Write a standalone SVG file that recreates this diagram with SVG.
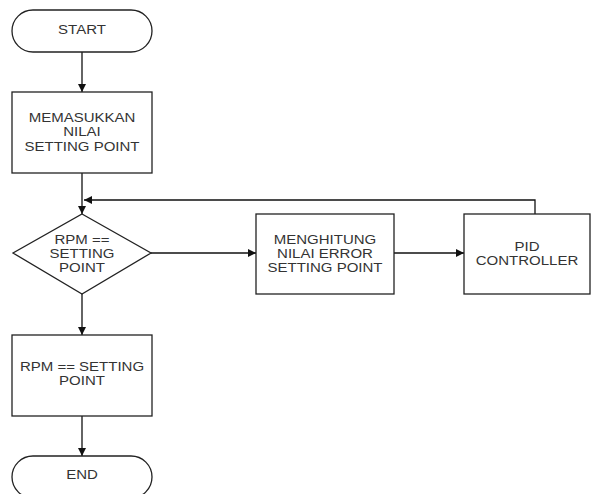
<svg xmlns="http://www.w3.org/2000/svg" width="591" height="494" viewBox="0 0 591 494">
<style>
.s{fill:#fff;stroke:#222;stroke-width:1.3}
.t{font-family:"Liberation Sans",Arial,sans-serif;font-size:12px;fill:#333;text-anchor:middle}
.c{fill:none;stroke:#111;stroke-width:1.3}
</style>
<defs>
<marker id="a" viewBox="0 0 10 10" refX="10" refY="5" markerWidth="8" markerHeight="8" markerUnits="userSpaceOnUse" orient="auto">
<path d="M0,0 L10,5 L0,10 z" fill="#111"/>
</marker>
</defs>
<rect width="591" height="494" fill="#fff"/>
<g id="connectors">
<line class="c" x1="82" y1="52" x2="82" y2="92" marker-end="url(#a)"/>
<line class="c" x1="82" y1="173" x2="82" y2="214" marker-end="url(#a)"/>
<polyline class="c" points="535,214 535,200 84,200" marker-end="url(#a)"/>
<line class="c" x1="151" y1="253" x2="256" y2="253" marker-end="url(#a)"/>
<line class="c" x1="394" y1="253" x2="464" y2="253" marker-end="url(#a)"/>
<line class="c" x1="82" y1="294" x2="82" y2="335" marker-end="url(#a)"/>
<line class="c" x1="82" y1="416" x2="82" y2="456" marker-end="url(#a)"/>
</g>
<g id="start">
<rect class="s" x="12" y="10" width="140" height="42" rx="21" ry="21"/>
<g transform="translate(82,0) scale(1.25,1)"><text class="t" x="0" y="34">START</text></g>
</g>
<g id="input">
<rect class="s" x="12" y="92" width="140" height="81"/>
<g transform="translate(82,0) scale(1.25,1)">
<text class="t" x="0" y="122">MEMASUKKAN</text>
<text class="t" x="0" y="136">NILAI</text>
<text class="t" x="0" y="151">SETTING POINT</text>
</g>
</g>
<g id="decision">
<polygon class="s" points="82,214 151,253 82,294 13,253"/>
<g transform="translate(82,0) scale(1.25,1)">
<text class="t" x="0" y="244">RPM ==</text>
<text class="t" x="0" y="258">SETTING</text>
<text class="t" x="0" y="272">POINT</text>
</g>
</g>
<g id="error">
<rect class="s" x="256" y="214" width="138" height="80"/>
<g transform="translate(325,0) scale(1.25,1)">
<text class="t" x="0" y="244">MENGHITUNG</text>
<text class="t" x="0" y="258">NILAI ERROR</text>
<text class="t" x="0" y="272">SETTING POINT</text>
</g>
</g>
<g id="pid">
<rect class="s" x="464" y="214" width="126" height="80"/>
<g transform="translate(527,0) scale(1.25,1)">
<text class="t" x="0" y="251">PID</text>
<text class="t" x="0" y="265">CONTROLLER</text>
</g>
</g>
<g id="result">
<rect class="s" x="12" y="335" width="140" height="81"/>
<g transform="translate(82,0) scale(1.25,1)">
<text class="t" x="0" y="371">RPM == SETTING</text>
<text class="t" x="0" y="385">POINT</text>
</g>
</g>
<g id="end">
<rect class="s" x="12" y="456" width="140" height="42" rx="21" ry="21"/>
<g transform="translate(82,0) scale(1.25,1)"><text class="t" x="0" y="479">END</text></g>
</g>
</svg>
